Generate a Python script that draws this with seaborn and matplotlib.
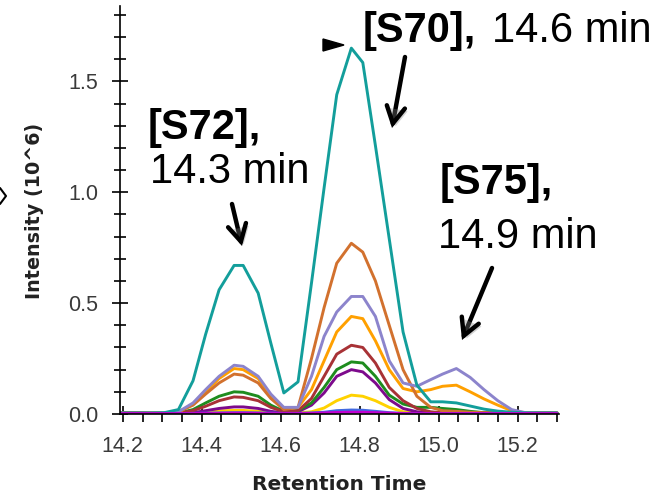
import numpy as np
import pandas as pd
import matplotlib
matplotlib.use("Agg")
import matplotlib.pyplot as plt
import seaborn as sns
from matplotlib.patches import FancyArrowPatch, Polygon, ArrowStyle
from matplotlib.lines import Line2D
from matplotlib.ticker import MultipleLocator, FixedLocator
import matplotlib.patheffects as pe

# ---------------- data ----------------
time = [14.19, 14.23, 14.27, 14.305, 14.341, 14.378, 14.41, 14.444, 14.482, 14.505,
        14.543, 14.575, 14.608, 14.644, 14.678, 14.71, 14.742, 14.779, 14.808, 14.84,
        14.875, 14.91, 14.945, 14.98, 15.01, 15.045, 15.08, 15.115, 15.15, 15.185,
        15.22, 15.26, 15.30]

teal = [0.005, 0.005, 0.005, 0.006, 0.02, 0.15, 0.36, 0.56, 0.67, 0.67,
        0.545, 0.32, 0.095, 0.145, 0.59, 1.02, 1.44, 1.65, 1.585, 1.21,
        0.79, 0.37, 0.13, 0.055, 0.055, 0.05, 0.036, 0.022, 0.013, 0.008,
        0.005, 0.005, 0.005]
chocolate = [0.005, 0.005, 0.005, 0.005, 0.01, 0.04, 0.09, 0.14, 0.18, 0.175,
             0.14, 0.07, 0.02, 0.03, 0.25, 0.48, 0.68, 0.77, 0.73, 0.60,
             0.40, 0.20, 0.08, 0.03, 0.015, 0.012, 0.008, 0.006, 0.005, 0.005,
             0.005, 0.005, 0.005]
lavender = [0.003, 0.003, 0.003, 0.003, 0.01, 0.05, 0.11, 0.17, 0.22, 0.215,
            0.17, 0.09, 0.03, 0.03, 0.17, 0.35, 0.46, 0.53, 0.53, 0.44,
            0.24, 0.14, 0.125, 0.155, 0.18, 0.205, 0.165, 0.11, 0.06, 0.02,
            0.006, 0.004, 0.004]
gold = [0.003, 0.003, 0.003, 0.003, 0.008, 0.045, 0.10, 0.16, 0.205, 0.20,
        0.16, 0.08, 0.025, 0.03, 0.11, 0.24, 0.37, 0.44, 0.43, 0.33,
        0.20, 0.115, 0.10, 0.11, 0.125, 0.13, 0.10, 0.068, 0.04, 0.015,
        0.005, 0.004, 0.004]
brownred = [0.006, 0.006, 0.004, 0.003, 0.004, 0.015, 0.035, 0.06, 0.077, 0.075,
            0.06, 0.03, 0.01, 0.015, 0.07, 0.17, 0.27, 0.31, 0.30, 0.23,
            0.12, 0.06, 0.025, 0.01, 0.005, 0.005, 0.005, 0.005, 0.005, 0.005,
            0.005, 0.005, 0.005]
green = [0.003, 0.003, 0.003, 0.003, 0.004, 0.02, 0.05, 0.08, 0.10, 0.098,
         0.08, 0.04, 0.012, 0.015, 0.05, 0.12, 0.20, 0.235, 0.23, 0.17,
         0.085, 0.045, 0.03, 0.03, 0.025, 0.02, 0.012, 0.006, 0.004, 0.003,
         0.003, 0.003, 0.003]
purple = [0.003, 0.003, 0.003, 0.003, 0.003, 0.006, 0.015, 0.025, 0.032, 0.032,
          0.025, 0.012, 0.005, 0.01, 0.04, 0.095, 0.17, 0.20, 0.19, 0.14,
          0.065, 0.025, 0.01, 0.005, 0.004, 0.004, 0.004, 0.004, 0.004, 0.004,
          0.004, 0.004, 0.004]
yellow = [0.002, 0.002, 0.002, 0.002, 0.002, 0.005, 0.01, 0.014, 0.016, 0.016,
          0.012, 0.006, 0.003, 0.005, 0.01, 0.027, 0.06, 0.085, 0.08, 0.06,
          0.03, 0.01, 0.005, 0.003, 0.002, 0.002, 0.002, 0.002, 0.002, 0.002,
          0.002, 0.002, 0.002]
blue = [0.002, 0.002, 0.002, 0.002, 0.002, 0.003, 0.004, 0.005, 0.006, 0.006,
        0.005, 0.004, 0.003, 0.003, 0.005, 0.008, 0.015, 0.018, 0.017, 0.012,
        0.006, 0.003, 0.002, 0.002, 0.002, 0.002, 0.002, 0.002, 0.002, 0.002,
        0.002, 0.002, 0.002]
magenta = [0.002, 0.002, 0.002, 0.002, 0.002, 0.002, 0.003, 0.003, 0.004, 0.004,
           0.003, 0.002, 0.002, 0.002, 0.003, 0.005, 0.007, 0.008, 0.008, 0.006,
           0.004, 0.002, 0.002, 0.002, 0.002, 0.002, 0.002, 0.002, 0.002, 0.002,
           0.002, 0.002, 0.002]

series = {
    "yellow": yellow, "purple": purple, "green": green, "brownred": brownred,
    "gold": gold, "chocolate": chocolate, "lavender": lavender, "teal": teal,
    "blue": blue, "magenta": magenta,
}
palette = {
    "yellow": "#ffd200", "purple": "#7d0a8c", "green": "#1e8c1e", "brownred": "#a83236",
    "gold": "#ffa000", "chocolate": "#d2712e", "lavender": "#8c84cc", "teal": "#139e9b",
    "blue": "#4169e1", "magenta": "#c000d0",
}

x_major = [14.2, 14.4, 14.6, 14.8, 15.0, 15.2]
x_labels = ["14.2", "14.4", "14.6", "14.8", "15.0", "15.2"]
y_major = [0.0, 0.5, 1.0, 1.5]
y_labels = ["0.0", "0.5", "1.0", "1.5"]

rows = []
for name, vals in series.items():
    for t, v in zip(time, vals):
        rows.append({"time": t, "intensity": v, "series": name})
df = pd.DataFrame(rows)

# ---------------- figure ----------------
sns.set_style("ticks")
plt.rcParams["font.family"] = ["DejaVu Sans"]

W, H = 669, 496
fig = plt.figure(figsize=(W / 100, H / 100), dpi=100)
ax = fig.add_axes([120 / W, (H - 414) / H, (559 - 120) / W, (414 - 6) / H])

sns.lineplot(data=df, x="time", y="intensity", hue="series",
             hue_order=list(series.keys()), palette=palette,
             linewidth=2.1, legend=False, ax=ax)

ax.set_xlim(14.193, 15.305)
ax.set_ylim(0, 1.84)

for s in ["top", "right"]:
    ax.spines[s].set_visible(False)
for s in ["left", "bottom"]:
    ax.spines[s].set_color("black")
    ax.spines[s].set_linewidth(1.2)

ax.xaxis.set_major_locator(FixedLocator(x_major))
ax.set_xticklabels(x_labels)
ax.xaxis.set_minor_locator(MultipleLocator(0.05))
ax.yaxis.set_major_locator(FixedLocator(y_major))
ax.set_yticklabels(y_labels)
ax.yaxis.set_minor_locator(MultipleLocator(0.1))

for lab in ax.get_xticklabels() + ax.get_yticklabels():
    lab.set_fontfamily("Liberation Sans")
    lab.set_fontsize(15.5)
    lab.set_color("#3a3a3a")

ax.tick_params(axis="x", which="both", bottom=True, top=False)
ax.tick_params(axis="y", which="both", left=True, right=False)
ax.tick_params(axis="x", which="major", direction="inout", length=11, width=1.2,
               pad=10, color="black", labelcolor="#3a3a3a")
ax.tick_params(axis="x", which="minor", direction="out", length=6, width=1.2, color="black")
ax.tick_params(axis="y", which="major", direction="inout", length=11, width=1.2,
               pad=10, color="black", labelcolor="#3a3a3a")
ax.tick_params(axis="y", which="minor", direction="inout", length=8, width=1.2, color="black")

ax.set_xlabel("Retention Time", fontsize=14.5, fontweight="bold", color="#222222")
ax.set_ylabel("Intensity (10^6)", fontsize=13.8, fontweight="bold", color="#222222")
ax.xaxis.set_label_coords(0.5, (414 - 475) / 408)
ax.yaxis.set_label_coords((44 - 120) / 439, (414 - 211) / 408)

# ---------------- annotations ----------------
def fx(x):
    return x / W


def fy(y):
    return 1 - y / H


afs = 30
fig.text(fx(148), fy(139), "[S72],", fontsize=afs, fontweight="bold", color="black",
         family="Liberation Sans", va="baseline", ha="left")
fig.text(fx(150), fy(183), "14.3 min", fontsize=afs, color="black",
         family="Liberation Sans", va="baseline", ha="left")
fig.text(fx(363), fy(42), "[S70],", fontsize=afs, fontweight="bold", color="black",
         family="Liberation Sans", va="baseline", ha="left")
fig.text(fx(492), fy(42), "14.6 min", fontsize=afs, color="black",
         family="Liberation Sans", va="baseline", ha="left")
fig.text(fx(440), fy(194), "[S75],", fontsize=afs, fontweight="bold", color="black",
         family="Liberation Sans", va="baseline", ha="left")
fig.text(fx(438), fy(248), "14.9 min", fontsize=afs, color="black",
         family="Liberation Sans", va="baseline", ha="left")

arrows = [((232, 204), (242, 246)), ((405, 57), (392, 128)), ((492, 268), (462, 340))]
for (x0, y0), (x1, y1) in arrows:
    arr = FancyArrowPatch((fx(x0), fy(y0)), (fx(x1), fy(y1)),
                          transform=fig.transFigure,
                          arrowstyle=ArrowStyle("->", head_length=0.55, head_width=0.3),
                          mutation_scale=22, lw=3.2, color="black",
                          shrinkA=0, shrinkB=0, capstyle="round", joinstyle="miter")
    arr.set_path_effects([pe.SimplePatchShadow(offset=(2, -2), shadow_rgbFace="gray", alpha=0.35),
                          pe.Normal()])
    fig.add_artist(arr)

# small marker near the main peak
tri = Polygon([(fx(323), fy(39)), (fx(323), fy(51)), (fx(344), fy(45))],
              closed=True, transform=fig.transFigure, color="black")
fig.add_artist(tri)

# partial chevron at left edge
fig.add_artist(Line2D([fx(0), fx(6), fx(0)], [fy(188), fy(196), fy(204)],
                      transform=fig.transFigure, color="black", lw=1.5))

fig.savefig("out.png", dpi=100)
